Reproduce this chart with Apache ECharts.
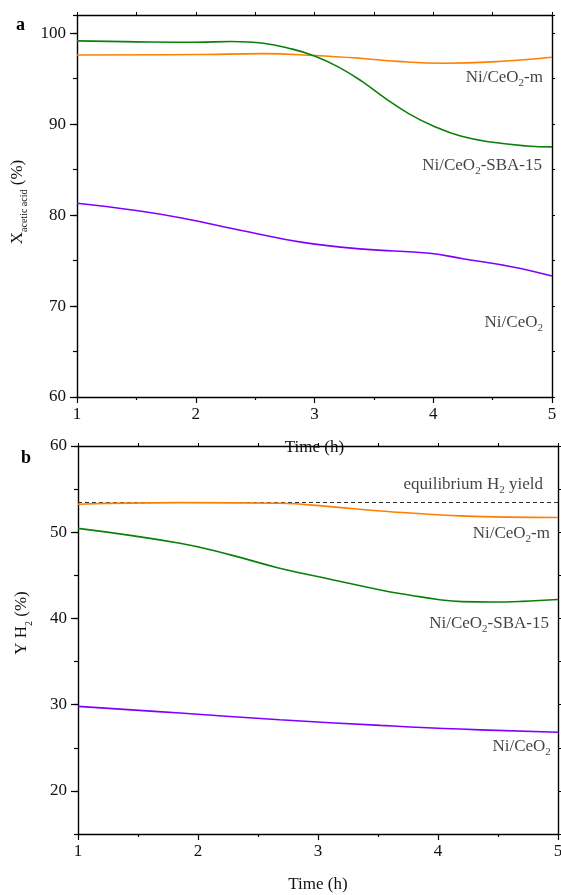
<!DOCTYPE html>
<html>
<head>
<meta charset="utf-8">
<script src="https://cdn.jsdelivr.net/npm/echarts@6/dist/echarts.min.js"></script>
<style>
  html, body { margin: 0; padding: 0; background: #fff; }
  #chart { width: 561px; height: 895px; }
</style>
</head>
<body>
<div id="chart"></div>
<script>
// Panel a: acetic acid conversion (%) vs time on stream (h)
const convSBA = [[1, 99.15], [1.5, 99.05], [2, 99.0], [2.3, 99.08], [2.57, 98.9], [2.8, 98.3], [3.0, 97.5], [3.2, 96.3], [3.4, 94.7], [3.6, 92.8], [3.8, 91.1], [4.0, 89.8], [4.23, 88.7], [4.5, 88.0], [4.79, 87.6], [5, 87.5]];
const convM = [[1, 97.6], [2, 97.65], [2.57, 97.75], [3.0, 97.55], [3.38, 97.25], [3.7, 96.9], [4.08, 96.7], [4.5, 96.85], [5, 97.35]];
const convCeO2 = [[1, 81.3], [1.5, 80.5], [1.87, 79.7], [2.43, 78.2], [2.9, 77.0], [3.41, 76.26], [3.97, 75.8], [4.25, 75.2], [4.67, 74.3], [5, 73.3]];

// Panel b: H2 yield (%) vs time on stream (h)
const yieldM = [[1, 53.25], [1.85, 53.43], [2.68, 53.36], [3.1, 52.97], [3.52, 52.47], [4.18, 51.9], [5, 51.7]];
const yieldSBA = [[1, 50.45], [1.85, 48.72], [2.27, 47.37], [2.68, 45.83], [3.1, 44.55], [3.52, 43.3], [3.77, 42.7], [4.0, 42.2], [4.2, 41.95], [4.45, 41.9], [4.7, 41.98], [5, 42.2]];
const yieldCeO2 = [[1, 29.8], [1.85, 29.03], [2.68, 28.25], [3.52, 27.6], [4.18, 27.17], [5, 26.8]];
const equilibriumH2 = [[1, 53.45], [5, 53.45]];

// Axis ranges and tick values
const timeRange = { min: 1, max: 5, interval: 1 };
const convRange = { min: 60, max: 102, interval: 5 };
const convTicks = [60, 70, 80, 90, 100];
const yieldRange = { min: 15, max: 60, interval: 5 };
const yieldTicks = [20, 30, 40, 50, 60];

// Curve labels: [x, y, text]
const labelsA = [
  [4.924, 95.1, '{t|Ni/CeO}{s|2}{t|-m}'],
  [4.916, 85.4, '{t|Ni/CeO}{s|2}{t|-SBA-15}'],
  [4.924, 68.2, '{t|Ni/CeO}{s|2}']
];
const labelsB = [
  [4.875, 55.5, '{t|equilibrium H}{s|2}{t| yield}'],
  [4.933, 49.8, '{t|Ni/CeO}{s|2}{t|-m}'],
  [4.925, 39.4, '{t|Ni/CeO}{s|2}{t|-SBA-15}'],
  [4.94, 25.1, '{t|Ni/CeO}{s|2}']
];

const FONT = '"Liberation Serif", "Times New Roman", serif';
const INK = '#111';
const ORANGE = '#ff7f00', GREEN = '#0a800a', PURPLE = '#8000ff';

const rich = {
  t: { fontFamily: FONT, fontSize: 17, color: INK, lineHeight: 22 },
  s: { fontFamily: FONT, fontSize: 11, color: INK, verticalAlign: 'bottom', lineHeight: 22 }
};
const axisLineStyle = { show: true, onZero: false, lineStyle: { color: '#000', width: 1.4 } };

function mainX(grid) {
  return {
    type: 'value', gridIndex: grid, min: timeRange.min, max: timeRange.max, interval: timeRange.interval,
    position: 'bottom',
    name: 'Time (h)', nameLocation: 'middle', nameGap: 42,
    nameTextStyle: { fontFamily: FONT, fontSize: 17, color: INK },
    axisLine: axisLineStyle,
    axisTick: { show: true, inside: false, length: 6, lineStyle: { color: '#000', width: 1.2 } },
    minorTick: { show: true, splitNumber: 2, length: 3, lineStyle: { color: '#000', width: 1.2 } },
    axisLabel: { fontFamily: FONT, fontSize: 17, color: INK, margin: 9 },
    splitLine: { show: false }
  };
}
function mirrorX(grid) {
  return {
    type: 'value', gridIndex: grid, min: timeRange.min, max: timeRange.max, interval: timeRange.interval,
    position: 'top',
    axisLine: axisLineStyle,
    axisTick: { show: true, inside: false, length: 3, lineStyle: { color: '#000', width: 1 } },
    minorTick: { show: true, splitNumber: 2, length: 3, lineStyle: { color: '#000', width: 1 } },
    axisLabel: { show: false }, splitLine: { show: false }
  };
}
// Left axis: long ticks and labels at the listed values
function mainY(grid, rng, ticks, name, gap, shift) {
  return {
    type: 'value', gridIndex: grid, min: rng.min, max: rng.max, interval: rng.interval,
    position: 'left',
    name: name, nameLocation: 'middle', nameGap: gap, nameRotate: 90,
    nameTextStyle: {
      padding: [0, 0, 0, shift],
      rich: {
        t: { fontFamily: FONT, fontSize: 17, color: INK, lineHeight: 24 },
        s: { fontFamily: FONT, fontSize: 10, color: INK, verticalAlign: 'bottom', lineHeight: 24 }
      }
    },
    axisLine: axisLineStyle,
    axisTick: { show: true, inside: false, length: 7, customValues: ticks, lineStyle: { color: '#000', width: 1.2 } },
    axisLabel: { fontFamily: FONT, fontSize: 17, color: INK, margin: 11, customValues: ticks },
    splitLine: { show: false }
  };
}
// Left axis: short ticks every interval
function minorY(grid, rng) {
  return {
    type: 'value', gridIndex: grid, min: rng.min, max: rng.max, interval: rng.interval,
    position: 'left',
    axisLine: { show: false },
    axisTick: { show: true, inside: false, length: 4, lineStyle: { color: '#000', width: 1.2 } },
    axisLabel: { show: false }, splitLine: { show: false }
  };
}
function mirrorY(grid, rng) {
  return {
    type: 'value', gridIndex: grid, min: rng.min, max: rng.max, interval: rng.interval,
    position: 'right',
    axisLine: axisLineStyle,
    axisTick: { show: true, inside: false, length: 3, lineStyle: { color: '#000', width: 1 } },
    axisLabel: { show: false }, splitLine: { show: false }
  };
}
function curve(xi, yi, data, color) {
  return {
    type: 'line', xAxisIndex: xi, yAxisIndex: yi, data: data,
    smooth: 0.45, showSymbol: false, silent: true,
    lineStyle: { color: color, width: 1.6 }
  };
}
function textLayer(xi, yi, labels) {
  return {
    type: 'scatter', xAxisIndex: xi, yAxisIndex: yi, symbolSize: 0, silent: true,
    data: labels.map(l => ({ value: [l[0], l[1]], text: l[2] })),
    label: {
      show: true, position: 'inside', align: 'right', verticalAlign: 'middle',
      formatter: p => p.data.text, rich: rich
    }
  };
}

const chart = echarts.init(document.getElementById('chart'), null, { renderer: 'canvas' });
chart.setOption({
  backgroundColor: '#fff',
  animation: false,
  grid: [
    { left: 77, right: 9, top: 15, height: 382, outerBoundsMode: 'none', containLabel: false },
    { left: 78, right: 3, top: 446, height: 388, outerBoundsMode: 'none', containLabel: false }
  ],
  xAxis: [mainX(0), mirrorX(0), mainX(1), mirrorX(1)],
  yAxis: [
    mainY(0, convRange, convTicks, '{t|X}{s|acetic acid}{t| (%)}', 46, 8),   // 0
    minorY(0, convRange),                                                   // 1
    mirrorY(0, convRange),                                                  // 2
    mainY(1, yieldRange, yieldTicks, '{t|Y H}{s|2}{t| (%)}', 44, 34),       // 3
    minorY(1, yieldRange),                                                  // 4
    mirrorY(1, yieldRange)                                                  // 5
  ],
  graphic: [
    { type: 'text', left: 16, top: 16, style: { text: 'a', font: 'bold 18px ' + FONT, fill: '#000' } },
    { type: 'text', left: 21, top: 449, style: { text: 'b', font: 'bold 18px ' + FONT, fill: '#000' } }
  ],
  series: [
    curve(0, 0, convM, ORANGE),
    curve(0, 0, convSBA, GREEN),
    curve(0, 0, convCeO2, PURPLE),
    textLayer(0, 0, labelsA),
    {
      type: 'line', xAxisIndex: 2, yAxisIndex: 3, data: equilibriumH2, showSymbol: false, silent: true,
      lineStyle: { color: '#333', width: 1.2, type: [4, 3] }, z: 3
    },
    curve(2, 3, yieldM, ORANGE),
    curve(2, 3, yieldSBA, GREEN),
    curve(2, 3, yieldCeO2, PURPLE),
    textLayer(2, 3, labelsB)
  ]
});
</script>
</body>
</html>
